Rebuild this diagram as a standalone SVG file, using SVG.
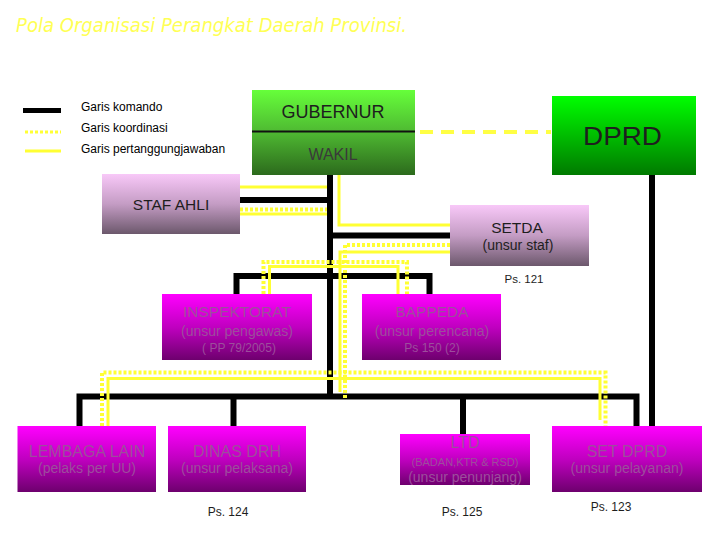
<svg xmlns="http://www.w3.org/2000/svg" width="720" height="540" viewBox="0 0 720 540">
<defs>
<linearGradient id="gGub" x1="0" y1="0" x2="0" y2="1"><stop offset="0" stop-color="#66FF3A"/><stop offset="0.5" stop-color="#4EB832"/><stop offset="1" stop-color="#2C6A1C"/></linearGradient>
<linearGradient id="gDprd" x1="0" y1="0" x2="0" y2="1"><stop offset="0" stop-color="#00FF00"/><stop offset="1" stop-color="#007A00"/></linearGradient>
<linearGradient id="gPink" x1="0" y1="0" x2="0" y2="1"><stop offset="0" stop-color="#F8C8F8"/><stop offset="0.5" stop-color="#C49CC4"/><stop offset="1" stop-color="#6C586C"/></linearGradient>
<linearGradient id="gMag" x1="0" y1="0" x2="0" y2="1"><stop offset="0" stop-color="#FF00FF"/><stop offset="0.5" stop-color="#C000C0"/><stop offset="1" stop-color="#6E006E"/></linearGradient>
</defs>
<style>
.t{font-family:"Liberation Sans",Arial,sans-serif;text-anchor:middle}
.cmd{stroke:#000;stroke-width:6;fill:none}
.resp{stroke:#FFFF33;stroke-width:3;fill:none}
.coord{stroke:#FFFF33;stroke-width:4;stroke-dasharray:3 2;fill:none}
.mt{fill:#9C4E9C}
.dk{fill:#1E1E1E}
.lg{font-family:"Liberation Sans",Arial,sans-serif;font-size:12px;fill:#000}
</style>
<rect width="720" height="540" fill="#fff"/>
<text x="16" y="32" font-family="'DejaVu Sans',sans-serif" font-style="italic" font-size="19" fill="#FFFF55" textLength="391" lengthAdjust="spacingAndGlyphs">Pola Organisasi Perangkat Daerah Provinsi.</text>

<g id="legend">
<line x1="23" y1="110.5" x2="61" y2="110.5" stroke="#000" stroke-width="5"/>
<line x1="25" y1="132" x2="61" y2="132" stroke="#FFFF33" stroke-width="3" stroke-dasharray="3 2"/>
<line x1="25" y1="151" x2="61" y2="151" stroke="#FFFF33" stroke-width="3"/>
<text class="lg" x="81" y="111">Garis komando</text>
<text class="lg" x="81" y="132">Garis koordinasi</text>
<text class="lg" x="81" y="153">Garis pertanggungjawaban</text>
</g>

<g id="connectors">
<path class="cmd" d="M330 175V397"/>
<path class="cmd" d="M240 200H330"/>
<path class="cmd" d="M330 235.5H450"/>
<path class="cmd" d="M236.5 294V276H429.5V294"/>
<path class="cmd" d="M79.5 426V396.5H636.5V426"/>
<path class="cmd" d="M233.5 396V426"/>
<path class="cmd" d="M463 396V434"/>
<path class="cmd" d="M652 175V426"/>
<path class="resp" d="M339 175V225H450"/>
<path class="resp" d="M240 187H327"/>
<path class="resp" d="M240 214H327" stroke-width="2"/>
<path class="resp" d="M450 252H340V392"/>
<path class="resp" d="M269.5 294V266.5H398V294"/>
<path class="resp" d="M108 426V378.5H600V420"/>
<path class="coord" d="M240 209.5H327"/>
<path class="coord" d="M450 245H345V398"/>
<path class="coord" d="M263.5 294V262H407V294"/>
<path class="coord" d="M102 426V372.5H605.5V426"/>
<path d="M420 132H551" stroke="#FFFF44" stroke-width="4" stroke-dasharray="13 8" fill="none"/>
</g>

<g id="gubernur">
<rect x="252" y="90" width="163" height="85" fill="url(#gGub)"/>
<line x1="252" y1="131.5" x2="415" y2="131.5" stroke="#111" stroke-width="2"/>
<text class="t dk" x="333" y="118" font-size="18">GUBERNUR</text>
<text class="t" x="333" y="160" font-size="16" fill="#3A3A3A">WAKIL</text>
</g>
<g id="dprd">
<rect x="552" y="96" width="144" height="79" fill="url(#gDprd)"/>
<text class="t dk" x="622.5" y="145" font-size="25" textLength="79" lengthAdjust="spacingAndGlyphs">DPRD</text>
</g>
<g id="staf-ahli">
<rect x="102" y="174" width="138" height="60" fill="url(#gPink)"/>
<text class="t dk" x="171" y="210" font-size="15.5">STAF AHLI</text>
</g>
<g id="setda">
<rect x="450" y="205" width="139" height="61" fill="url(#gPink)"/>
<text class="t dk" x="517" y="233" font-size="15.5">SETDA</text>
<text class="t dk" x="518" y="250" font-size="14">(unsur staf)</text>
<text class="t dk" x="524" y="283" font-size="11.5">Ps. 121</text>
</g>
<g id="inspektorat">
<rect x="162" y="294" width="150" height="66" fill="url(#gMag)"/>
<text class="t mt" x="237" y="317" font-size="15.5">INSPEKTORAT</text>
<text class="t mt" x="237" y="336" font-size="14">(unsur pengawas)</text>
<text class="t mt" x="239" y="352" font-size="12">( PP 79/2005)</text>
</g>
<g id="bappeda">
<rect x="362" y="294" width="139" height="66" fill="url(#gMag)"/>
<text class="t mt" x="432" y="317" font-size="15.5">BAPPEDA</text>
<text class="t mt" x="432" y="336" font-size="14">(unsur perencana)</text>
<text class="t mt" x="432" y="352" font-size="12">Ps 150 (2)</text>
</g>
<g id="lembaga-lain">
<rect x="17.5" y="426" width="138.5" height="66" fill="url(#gMag)"/>
<text class="t mt" x="87" y="457" font-size="16">LEMBAGA LAIN</text>
<text class="t mt" x="87" y="473" font-size="14">(pelaks per UU)</text>
</g>
<g id="dinas-drh">
<rect x="168" y="426" width="138" height="66" fill="url(#gMag)"/>
<text class="t mt" x="237" y="457" font-size="16">DINAS DRH</text>
<text class="t mt" x="237" y="473" font-size="14">(unsur pelaksana)</text>
<text class="t dk" x="228" y="516" font-size="12">Ps. 124</text>
</g>
<g id="ltd">
<rect x="400" y="434" width="130" height="51" fill="url(#gMag)"/>
<text class="t mt" x="465" y="448" font-size="16">LTD</text>
<text class="t mt" x="465" y="466" font-size="11">(BADAN,KTR &amp; RSD)</text>
<text class="t mt" x="465" y="482" font-size="14">(unsur penunjang)</text>
<text class="t dk" x="462" y="516" font-size="12">Ps. 125</text>
</g>
<g id="set-dprd">
<rect x="552" y="426" width="150" height="66" fill="url(#gMag)"/>
<text class="t mt" x="627" y="457" font-size="16">SET DPRD</text>
<text class="t mt" x="627" y="473" font-size="14">(unsur pelayanan)</text>
<text class="t dk" x="611" y="511" font-size="12">Ps. 123</text>
</g>
</svg>
